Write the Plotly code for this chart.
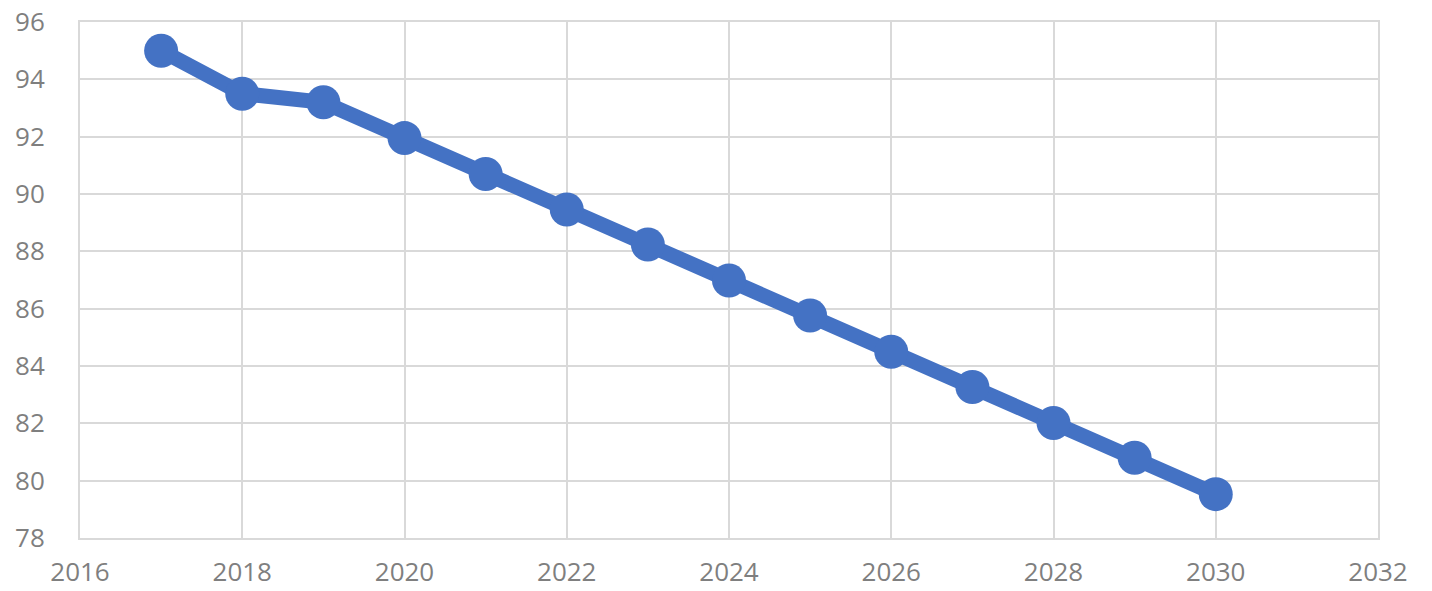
import plotly.graph_objects as go

years = [2017, 2018, 2019, 2020, 2021, 2022, 2023, 2024, 2025, 2026, 2027, 2028, 2029, 2030]
values = [95.0, 93.5, 93.2, 91.95, 90.7, 89.46, 88.24, 86.98, 85.76, 84.5, 83.27, 82.01, 80.8, 79.53]
x_ticks = [2016, 2018, 2020, 2022, 2024, 2026, 2028, 2030, 2032]
y_ticks = [78, 80, 82, 84, 86, 88, 90, 92, 94, 96]

fig = go.Figure()
fig.add_trace(go.Scatter(
    x=years, y=values, mode="lines+markers",
    line=dict(color="#4472C4", width=15),
    marker=dict(color="#4472C4", size=34),
    showlegend=False, cliponaxis=False,
))

grid = "#d9d9d9"
fig.update_layout(
    width=1432, height=591,
    margin=dict(l=80, r=54, t=22, b=53),
    plot_bgcolor="white", paper_bgcolor="white",
    font=dict(family="Open Sans", color="#7f7f7f"),
)
fig.update_xaxes(
    range=[2016, 2032], tickvals=x_ticks, ticktext=[str(v) for v in x_ticks],
    showgrid=True, gridcolor=grid, gridwidth=2, zeroline=False,
    showline=True, linecolor=grid, linewidth=2, mirror=True, automargin=False,
    tickfont=dict(size=26, color="#7f7f7f"), ticks="", ticklabelstandoff=10,
)
fig.update_yaxes(
    range=[78, 96], tickvals=y_ticks, ticktext=[str(v) for v in y_ticks],
    showgrid=True, gridcolor=grid, gridwidth=2, zeroline=False,
    showline=True, linecolor=grid, linewidth=2, mirror=True, automargin=False,
    tickfont=dict(size=26, color="#7f7f7f"), ticks="", ticklabelstandoff=28,
)
fig.write_html("out.html")
